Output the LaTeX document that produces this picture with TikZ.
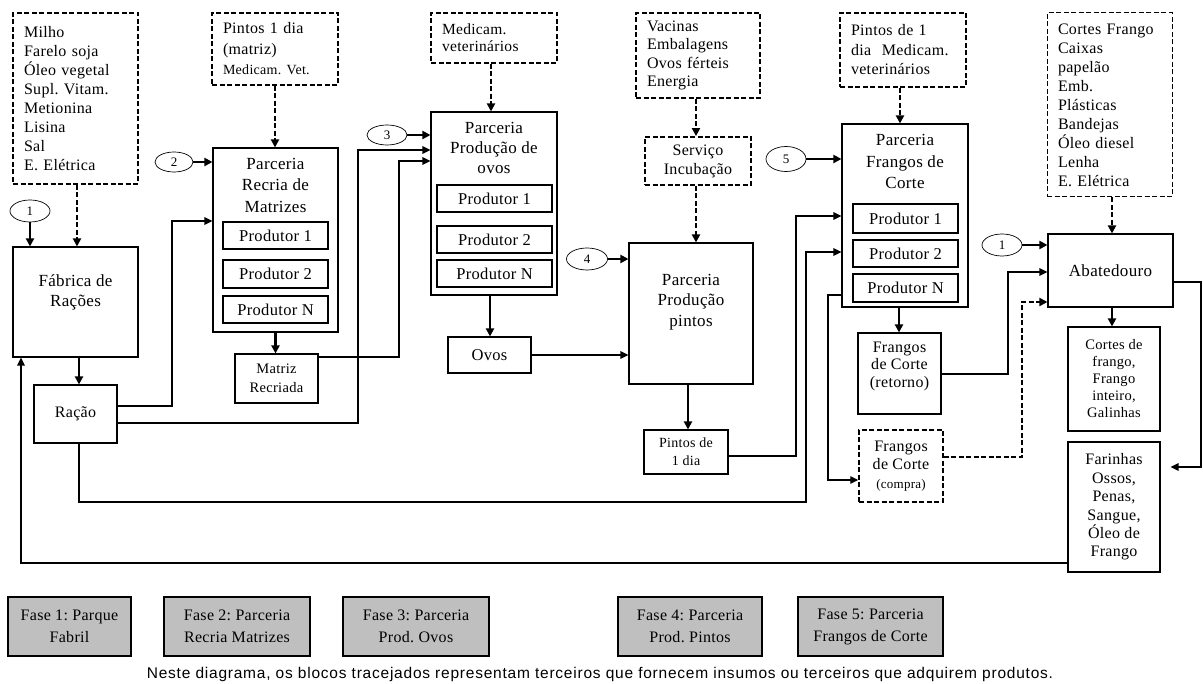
\documentclass[tikz,border=0pt]{standalone}
\usepackage{fontspec}
\setmainfont{Liberation Serif}[LetterSpace=2]
\newfontfamily\capfont{Liberation Sans}[LetterSpace=5]
\usetikzlibrary{arrows.meta,shapes.geometric}
\newcommand\fz[2]{\fontsize{#1}{#2}\selectfont}
\frenchspacing
\begin{document}
\begin{tikzpicture}[x=1pt,y=-1pt,
  box/.style={draw, line width=1.1pt, inner sep=0pt, align=center},
  dboxh/.style={draw, line width=1.8pt, dash pattern=on 5pt off 2.5pt, inner xsep=11pt, inner ysep=0pt, align=left},
  dboxm/.style={draw, line width=1.4pt, dash pattern=on 5pt off 2.5pt, inner xsep=11pt, inner ysep=0pt, align=left},
  dboxl/.style={draw, line width=1pt, dash pattern=on 5pt off 2.5pt, inner xsep=11pt, inner ysep=0pt, align=left},
  prod/.style={draw, line width=1.1pt, inner sep=0pt, minimum width=105pt, font=\fz{16.5}{19}},
  num/.style={draw, ellipse, line width=0.7pt, inner sep=0pt, minimum width=40pt, minimum height=22pt, font=\fz{13}{14}},
  txt/.style={inner sep=0pt, align=center},
  thickarrow/.style={line width=2.4pt, -{Triangle[length=8pt,width=8pt]}},
  conn/.style={line width=1.2pt, -{Triangle[length=8pt,width=7.5pt]}},
  dconn/.style={line width=2pt, dash pattern=on 5pt off 2.5pt, -{Triangle[length=8pt,width=8pt]}},
  phase/.style={draw, line width=1.1pt, fill=black!25, inner sep=0pt, align=center, minimum height=59pt, font=\fz{16}{22}},
]
\useasboundingbox (0,0) rectangle (1203,684);
\fill[white] (0,0) rectangle (1203,684);

% supplier boxes (dashed)
\node[dboxh, text width=103pt, minimum height=171pt, font=\fz{16}{19}] (milho) at (75.5,98.5)
  {Milho\\Farelo soja\\Óleo vegetal\\Supl. Vitam.\\Metionina\\Lisina\\Sal\\E. Elétrica};
\node[dboxh, text width=104pt, minimum height=72pt, font=\fz{16}{20.5}] (pintosm) at (275,49)
  {Pintos 1 dia\\(matriz)\\{\fz{14}{20.5}Medicam. Vet.}};
\node[dboxm, text width=104pt, minimum height=50pt, font=\fz{15.5}{17}] (medic) at (494,38)
  {Medicam.\\veterinários};
\node[dboxh, text width=102pt, minimum height=85pt, font=\fz{16}{18.3}] (vacinas) at (698,55.5)
  {Vacinas\\Embalagens\\Ovos férteis\\Energia};
\node[dboxm, text width=104pt, minimum height=74pt, font=\fz{16}{19.5}] (pintosf) at (903,50)
  {Pintos de 1\\dia~ Medicam.\\veterinários};
\node[dboxl, text width=103pt, minimum height=184pt, font=\fz{16}{19}] (cortesf) at (1109.5,105)
  {Cortes Frango\\Caixas\\papelão\\Emb.\\Plásticas\\Bandejas\\Óleo diesel\\Lenha\\E. Elétrica};

% phase 1
\node[box, minimum width=125pt, minimum height=110pt] (fabrica) at (75.5,302) {};
\node[txt, font=\fz{17}{20}] (fabricat) at (75.5,292) {Fábrica de\\Rações};
\node[box, minimum width=83pt, minimum height=58pt, font=\fz{16}{19}] (racao) at (75.5,414) {Ração};

% phase 2
\node[box, minimum width=125pt, minimum height=184pt] (recria) at (275.5,240) {};
\node[txt, font=\fz{17}{21.5}] (recriat) at (275.5,185) {Parceria\\Recria de\\Matrizes};
\node[prod, minimum height=27pt] (r1) at (275.5,235.5) {Produtor 1};
\node[prod, minimum height=28pt] (r2) at (275.5,274) {Produtor 2};
\node[prod, minimum height=27pt] (rn) at (275.5,309.5) {Produtor N};
\node[box, minimum width=83pt, minimum height=49pt, font=\fz{14.5}{19}] (matriz) at (276.5,378.5) {Matriz\\Recriada};

% phase 3
\node[box, minimum width=126pt, minimum height=183pt] (ovosp) at (494,203.5) {};
\node[txt, font=\fz{17}{20}] (ovospt) at (494,148) {Parceria\\Produção de\\ovos};
\node[prod, minimum width=115pt, minimum height=27pt] (o1) at (494.5,198.5) {Produtor 1};
\node[prod, minimum width=115pt, minimum height=27pt] (o2) at (494.5,239.5) {Produtor 2};
\node[prod, minimum width=115pt, minimum height=27pt] (on) at (494.5,273.5) {Produtor N};
\node[box, minimum width=83pt, minimum height=36pt, font=\fz{16.5}{19}] (ovos) at (489.5,355) {Ovos};

% phase 4
\node[box, minimum width=124pt, minimum height=141pt] (pintosp) at (691,313.5) {};
\node[txt, font=\fz{17}{20.5}] (pintospt) at (691,302) {Parceria\\Produção\\pintos};
\node[dboxh, align=center, inner xsep=0pt, minimum width=106pt, minimum height=48pt, font=\fz{16}{19}] (servico) at (698,161) {Serviço\\Incubação};
\node[box, minimum width=84pt, minimum height=44pt, font=\fz{14}{18}] (pintos1) at (686,452) {Pintos de\\1 dia};

% phase 5
\node[box, minimum width=126pt, minimum height=183pt] (frangop) at (905,215.5) {};
\node[txt, font=\fz{17}{21.5}] (frangopt) at (905,161.5) {Parceria\\Frangos de\\Corte};
\node[prod, minimum height=29pt] (f1) at (905.5,218.5) {Produtor 1};
\node[prod, minimum height=27pt] (f2) at (905.5,253.5) {Produtor 2};
\node[prod, minimum height=28pt] (fn) at (905.5,288) {Produtor N};
\node[box, minimum width=83pt, minimum height=81pt] (retorno) at (899.5,373.5) {};
\node[txt, font=\fz{16}{17.5}] (retornot) at (899.5,366) {Frangos\\de Corte\\(retorno)};
\node[dboxm, align=center, inner xsep=0pt, minimum width=84pt, minimum height=72pt, font=\fz{16}{18.5}] (compra) at (901,466) {Frangos\\de Corte\\{\fz{13}{18.5}(compra)}};

% slaughterhouse
\node[box, minimum width=125pt, minimum height=73pt, font=\fz{17}{20}] (abat) at (1110.5,270.5) {Abatedouro};
\node[box, minimum width=92pt, minimum height=104pt, font=\fz{14.5}{17}] (cortes) at (1114,379) {Cortes de\\frango,\\Frango\\inteiro,\\Galinhas};
\node[box, minimum width=92pt, minimum height=130pt, font=\fz{16}{18.4}] (farinhas) at (1114,507) {Farinhas\\Ossos,\\Penas,\\Sangue,\\Óleo de\\Frango};

% numbered ellipses
\node[num] (n1a) at (30,211) {1};
\node[num, minimum width=38pt, minimum height=20pt] (n2) at (174,162) {2};
\node[num, minimum height=20pt] (n3) at (387,135) {3};
\node[num, minimum width=41pt] (n4) at (587,259) {4};
\node[num, minimum height=25pt] (n5) at (786,159) {5};
\node[num] (n1b) at (1002,245) {1};

% arrows phase 1
\draw[thickarrow] (n1a.south) -- (n1a.south |- fabrica.north);
\draw[dconn] ([xshift=1.5pt]milho.south) -- ([xshift=1.5pt]milho.south |- fabrica.north);
\draw[thickarrow] ([xshift=3.5pt]fabrica.south) -- ([xshift=3.5pt]fabrica.south |- racao.north);
\draw[conn] (racao.east |- 0,406) -- (172,406) -- (172,221) -- (recria.west |- 0,221);
\draw[conn] (racao.east |- 0,423) -- (358,423) -- (358,150) -- (ovosp.west |- 0,150);
\draw[conn] ([xshift=3.5pt]racao.south) -- (79,502) -- (806,502) -- (806,252) -- (frangop.west |- 0,252);

% arrows phase 2
\draw[thickarrow] (n2.east) -- (n2.east -| recria.west);
\draw[dconn] (pintosm.south) -- (pintosm.south |- recria.north);
\draw[thickarrow] (recria.south) -- (recria.south |- matriz.north);
\draw[conn] (matriz.east |- 0,357) -- (399,357) -- (399,161) -- (ovosp.west |- 0,161);

% arrows phase 3
\draw[thickarrow] (n3.east) -- (n3.east -| ovosp.west);
\draw[dconn] ([xshift=-3pt]medic.south) -- ([xshift=-3pt]medic.south |- ovosp.north);
\draw[thickarrow] ([xshift=-4pt]ovosp.south) -- ([xshift=-4pt]ovosp.south |- ovos.north);
\draw[conn] (ovos.east) -- (ovos.east -| pintosp.west);

% arrows phase 4
\draw[thickarrow] (n4.east) -- (n4.east -| pintosp.west);
\draw[dconn] ([xshift=-2pt]vacinas.south) -- ([xshift=-2pt]vacinas.south |- servico.north);
\draw[dconn] ([xshift=-2pt]servico.south) -- ([xshift=-2pt]servico.south |- pintosp.north);
\draw[thickarrow] ([xshift=-3pt]pintosp.south) -- ([xshift=-3pt]pintosp.south |- pintos1.north);
\draw[conn] (pintos1.east |- 0,456) -- (796,456) -- (796,216) -- (frangop.west |- 0,216);

% arrows phase 5
\draw[thickarrow] (n5.east) -- (n5.east -| frangop.west);
\draw[dconn] ([xshift=-3pt]pintosf.south) -- ([xshift=-3pt]pintosf.south |- frangop.north);
\draw[conn] (frangop.west |- 0,295) -- (828,295) -- (828,480) -- (compra.west |- 0,480);
\draw[thickarrow] ([xshift=-6pt]frangop.south) -- ([xshift=-6pt]frangop.south |- retorno.north);
\draw[conn] (retorno.east |- 0,374) -- (1008,374) -- (1008,272) -- (abat.west |- 0,272);
\draw[dconn, line width=1.8pt] (compra.east |- 0,457) -- (1022,457) -- (1022,302) -- (abat.west |- 0,302);

% slaughterhouse arrows
\draw[thickarrow] (n1b.east) -- (n1b.east -| abat.west);
\draw[dconn] ([xshift=2.5pt]cortesf.south) -- ([xshift=2.5pt]cortesf.south |- abat.north);
\draw[thickarrow] ([xshift=1.5pt]abat.south) -- ([xshift=1.5pt]abat.south |- cortes.north);
\draw[conn, shorten >=10pt] (abat.east |- 0,282) -- (1201,282) -- (1201,467) -- (farinhas.east |- 0,467);
\draw[conn] (farinhas.west |- 0,563) -- (21,563) -- (fabrica.south -| 21,0);

% phases
\node[phase, minimum width=123pt] (fase1) at (69.5,626.5) {Fase 1: Parque\\Fabril};
\node[phase, minimum width=146pt] (fase2) at (237,626.5) {Fase 2: Parceria\\Recria Matrizes};
\node[phase, minimum width=146pt] (fase3) at (416,626.5) {Fase 3: Parceria\\Prod. Ovos};
\node[phase, minimum width=144pt] (fase4) at (690,626.5) {Fase 4: Parceria\\Prod. Pintos};
\node[phase, minimum width=145pt] (fase5) at (870.5,626.5) {Fase 5: Parceria\\Frangos de Corte};

\node[inner sep=0pt, font=\capfont\fz{15.5}{17}] (caption) at (600,674)
  {Neste diagrama, os blocos tracejados representam terceiros que fornecem insumos ou terceiros que adquirem produtos.};
\end{tikzpicture}
\end{document}
